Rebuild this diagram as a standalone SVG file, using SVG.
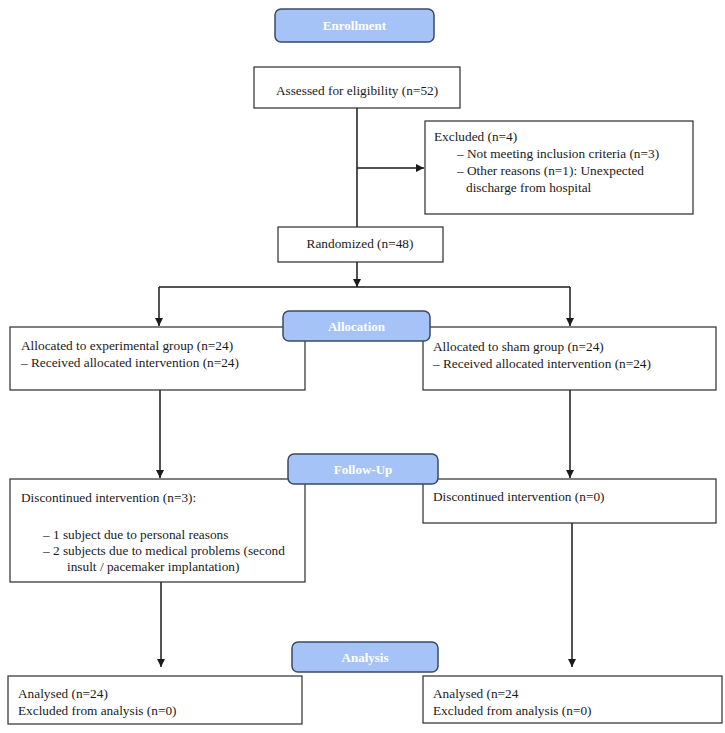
<svg xmlns="http://www.w3.org/2000/svg" width="725" height="733" viewBox="0 0 725 733">
<style>
.box{fill:#fff;stroke:#2b2b2b;stroke-width:1.2}
.hdr{fill:#a6c3f7;stroke:#3a4a66;stroke-width:1.5}
.t{font-family:"Liberation Serif","Times New Roman",serif;font-size:13.3px;fill:#1a1a1a}
.h{font-family:"Liberation Serif","Times New Roman",serif;font-size:13px;font-weight:bold;fill:#fff;text-anchor:middle}
.c{text-anchor:middle}
.ln{fill:none;stroke:#1a1a1a;stroke-width:1.5}
</style>
<defs>
<marker id="ah" viewBox="0 0 10 10" refX="10" refY="5" markerWidth="8" markerHeight="8" markerUnits="userSpaceOnUse" orient="auto">
<path d="M0,0 L10,5 L0,10 Z" fill="#1a1a1a"/>
</marker>
</defs>
<g id="connectors">
<path class="ln" d="M357,108 V227"/>
<path class="ln" d="M357,168 H424" marker-end="url(#ah)"/>
<path class="ln" d="M357,262 V287" marker-end="url(#ah)"/>
<path class="ln" d="M159,287 H570"/>
<path class="ln" d="M159,287 V326" marker-end="url(#ah)"/>
<path class="ln" d="M570,287 V326" marker-end="url(#ah)"/>
<path class="ln" d="M160,390 V478" marker-end="url(#ah)"/>
<path class="ln" d="M570,390 V478" marker-end="url(#ah)"/>
<path class="ln" d="M161,582 V667" marker-end="url(#ah)"/>
<path class="ln" d="M572,523 V667" marker-end="url(#ah)"/>
</g>
<g id="enrollment">
<rect class="hdr" x="275" y="9" width="159" height="33" rx="6"/>
<text class="h" x="354.500" y="30">Enrollment</text>
</g>
<g id="assessed">
<rect class="box" x="254" y="67" width="206" height="41"/>
<text class="t c" x="357" y="95">Assessed for eligibility (n=52)</text>
</g>
<g id="excluded">
<rect class="box" x="425" y="121" width="268" height="93"/>
<text class="t" x="434" y="141">Excluded (n=4)</text>
<text class="t" x="457" y="158">– Not meeting inclusion criteria (n=3)</text>
<text class="t" x="457" y="175">– Other reasons (n=1): Unexpected</text>
<text class="t" x="466" y="192">discharge from hospital</text>
</g>
<g id="randomized">
<rect class="box" x="278" y="227" width="165" height="35"/>
<text class="t c" x="360" y="248">Randomized (n=48)</text>
</g>
<g id="alloc-left">
<rect class="box" x="10" y="327" width="295" height="63"/>
<text class="t" x="21" y="350">Allocated to experimental group (n=24)</text>
<text class="t" x="21" y="367">– Received allocated intervention (n=24)</text>
</g>
<g id="alloc-right">
<rect class="box" x="423" y="327" width="293" height="63"/>
<text class="t" x="433" y="351">Allocated to sham group (n=24)</text>
<text class="t" x="433" y="368">– Received allocated intervention (n=24)</text>
</g>
<g id="allocation">
<rect class="hdr" x="283" y="311" width="147" height="30" rx="6"/>
<text class="h" x="356.500" y="331">Allocation</text>
</g>
<g id="follow-left">
<rect class="box" x="10" y="479" width="295" height="103"/>
<text class="t" x="21" y="502">Discontinued intervention (n=3):</text>
<text class="t" x="43" y="539">– 1 subject due to personal reasons</text>
<text class="t" x="43" y="555">– 2 subjects due to medical problems (second</text>
<text class="t" x="67" y="571">insult / pacemaker implantation)</text>
</g>
<g id="follow-right">
<rect class="box" x="423" y="479" width="293" height="44"/>
<text class="t" x="433" y="501">Discontinued intervention (n=0)</text>
</g>
<g id="followup">
<rect class="hdr" x="288" y="454" width="150" height="30" rx="6"/>
<text class="h" x="363" y="474">Follow-Up</text>
</g>
<g id="analysis-left">
<rect class="box" x="8" y="676" width="294" height="48"/>
<text class="t" x="18" y="698">Analysed (n=24)</text>
<text class="t" x="18" y="715">Excluded from analysis (n=0)</text>
</g>
<g id="analysis-right">
<rect class="box" x="423" y="676" width="299" height="47"/>
<text class="t" x="433" y="698">Analysed (n=24</text>
<text class="t" x="433" y="715">Excluded from analysis (n=0)</text>
</g>
<g id="analysis">
<rect class="hdr" x="292" y="642" width="146" height="30" rx="6"/>
<text class="h" x="365" y="662">Analysis</text>
</g>
</svg>
